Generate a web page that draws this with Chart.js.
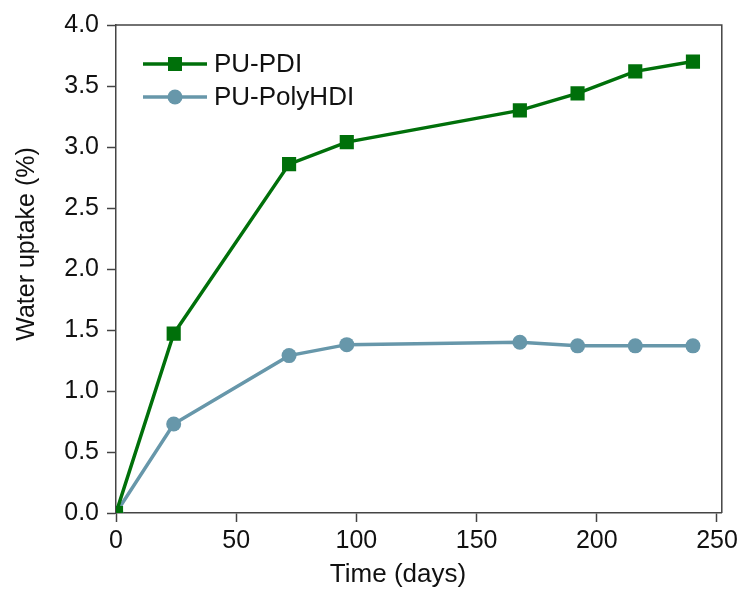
<!DOCTYPE html>
<html>
<head>
<meta charset="utf-8">
<script src="https://cdn.jsdelivr.net/npm/chart.js@4/dist/chart.umd.min.js"></script>
<style>
  html, body { margin: 0; padding: 0; background: #fff; }
  #wrap { width: 742px; height: 590px; }
</style>
</head>
<body>
<div id="wrap"><canvas id="uptakeChart" width="742" height="590"></canvas></div>
<script>
const days = [0, 24, 72, 96, 168, 192, 216, 240];
const puPdi = [0, 1.47, 2.86, 3.04, 3.30, 3.44, 3.62, 3.70];
const puPolyHdi = [0, 0.73, 1.29, 1.38, 1.40, 1.37, 1.37, 1.37];
const seriesNames = ['PU-PDI', 'PU-PolyHDI'];
const xTitle = 'Time (days)';
const yTitle = 'Water uptake (%)';

const GREEN = '#00700a';
const TEAL = '#6797aa';
const FRAME = '#444';
const FONT = '"Liberation Sans", Arial, sans-serif';

const toPoints = (ys) => days.map((d, i) => ({ x: d, y: ys[i] }));

// frame on top/right, axis titles and the legend
const decorations = {
    id: 'decorations',
    afterDraw(chart) {
        const { ctx, chartArea: a } = chart;
        ctx.save();
        ctx.strokeStyle = FRAME;
        ctx.lineWidth = 1.5;
        ctx.beginPath();
        ctx.moveTo(a.left, a.top);
        ctx.lineTo(a.right, a.top);
        ctx.lineTo(a.right, a.bottom);
        ctx.stroke();

        ctx.fillStyle = '#111';
        ctx.textAlign = 'center';
        ctx.textBaseline = 'middle';
        ctx.font = '26px ' + FONT;
        ctx.fillText(xTitle, 398, 575);

        ctx.save();
        ctx.font = '25px ' + FONT;
        ctx.translate(27, 244);
        ctx.rotate(-Math.PI / 2);
        ctx.fillText(yTitle, 0, 0);
        ctx.restore();

        // legend
        ctx.font = '26px ' + FONT;
        chart.data.datasets.forEach((ds, i) => {
            const y = 64 + i * 33;
            ctx.strokeStyle = ds.borderColor;
            ctx.lineWidth = 3.5;
            ctx.beginPath();
            ctx.moveTo(143, y);
            ctx.lineTo(207, y);
            ctx.stroke();
            ctx.fillStyle = ds.backgroundColor;
            if (ds.pointStyle === 'rect') {
                ctx.fillRect(168, y - 7, 14, 14);
            } else {
                ctx.beginPath();
                ctx.arc(175, y, 7.5, 0, Math.PI * 2);
                ctx.fill();
            }
            ctx.fillStyle = '#111';
            ctx.textAlign = 'left';
            ctx.fillText(ds.label, 214, y + 1);
        });
        ctx.restore();
    }
};

new Chart(document.getElementById('uptakeChart'), {
    type: 'line',
    data: {
        datasets: [{
            label: seriesNames[0],
            data: toPoints(puPdi),
            borderColor: GREEN,
            backgroundColor: GREEN,
            borderWidth: 3.5,
            pointStyle: 'rect',
            pointRadius: 10,
            pointBorderWidth: 0,
            tension: 0
        }, {
            label: seriesNames[1],
            data: toPoints(puPolyHdi),
            borderColor: TEAL,
            backgroundColor: TEAL,
            borderWidth: 3.5,
            pointStyle: 'circle',
            pointRadius: 7.5,
            pointBorderWidth: 0,
            tension: 0
        }]
    },
    options: {
        responsive: false,
        animation: false,
        layout: { padding: { top: 25, right: 20, left: 0, bottom: 0 } },
        plugins: { legend: { display: false }, tooltip: { enabled: false } },
        scales: {
            x: {
                type: 'linear',
                min: 0,
                max: 252,
                afterFit: (s) => { s.height = 77; },
                afterBuildTicks: (s) => { s.ticks = [0, 50, 100, 150, 200, 250].map(v => ({ value: v })); },
                ticks: {
                    color: '#111',
                    font: { family: FONT, size: 25 },
                    padding: 4,
                    maxRotation: 0
                },
                grid: { drawOnChartArea: false, drawTicks: true, tickLength: 9, tickColor: FRAME, tickWidth: 1.5 },
                border: { display: true, color: FRAME, width: 1.5 }
            },
            y: {
                min: 0,
                max: 4,
                afterFit: (s) => { s.width = 116; },
                ticks: {
                    stepSize: 0.5,
                    color: '#111',
                    font: { family: FONT, size: 25 },
                    padding: 8,
                    callback: (v) => v.toFixed(1)
                },
                grid: { drawOnChartArea: false, drawTicks: true, tickLength: 9, tickColor: FRAME, tickWidth: 1.5 },
                border: { display: true, color: FRAME, width: 1.5 }
            }
        }
    },
    plugins: [decorations]
});
</script>
</body>
</html>
